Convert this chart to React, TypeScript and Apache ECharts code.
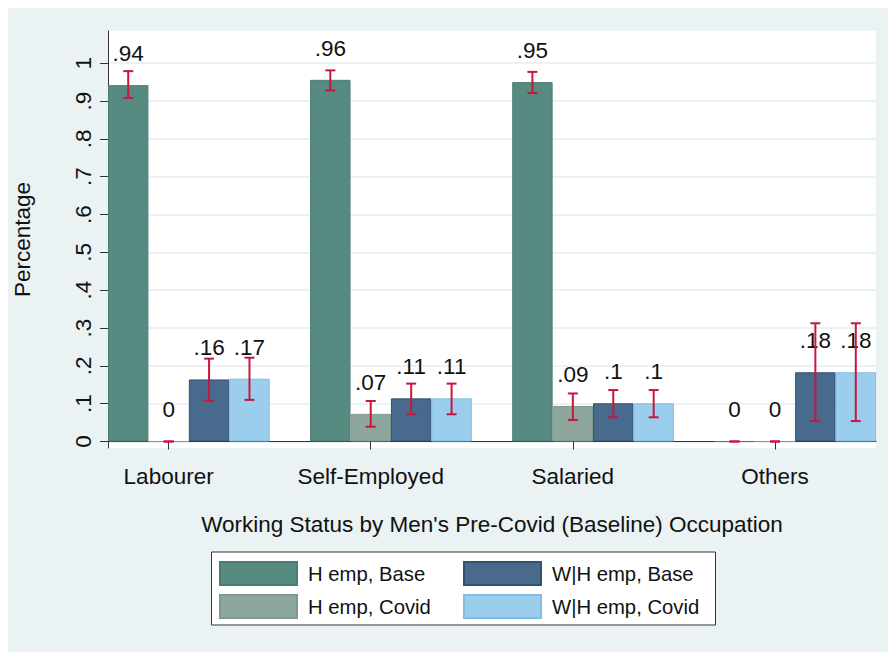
import React, { useEffect, useRef } from 'react';
import * as echarts from 'echarts';

const categories = ['Labourer', 'Self-Employed', 'Salaried', 'Others'];
const seriesNames = ['H emp, Base', 'H emp, Covid', 'W|H emp, Base', 'W|H emp, Covid'];

const hEmpBase = [0.942, 0.956, 0.95, 0];
const hEmpCovid = [0, 0.073, 0.094, 0];
const whEmpBase = [0.164, 0.114, 0.101, 0.183];
const whEmpCovid = [0.166, 0.114, 0.101, 0.183];

const hEmpBaseLow = [0.908, 0.928, 0.921, 0];
const hEmpBaseHigh = [0.979, 0.981, 0.977, 0];
const hEmpCovidLow = [0, 0.039, 0.057, 0];
const hEmpCovidHigh = [0, 0.107, 0.127, 0];
const whEmpBaseLow = [0.108, 0.072, 0.064, 0.054];
const whEmpBaseHigh = [0.219, 0.153, 0.136, 0.3125];
const whEmpCovidLow = [0.11, 0.072, 0.064, 0.054];
const whEmpCovidHigh = [0.2215, 0.153, 0.136, 0.3125];

const yTicks = [0, 0.1, 0.2, 0.3, 0.4, 0.5, 0.6, 0.7, 0.8, 0.9, 1];
const yTickLabels = ['0', '.1', '.2', '.3', '.4', '.5', '.6', '.7', '.8', '.9', '1'];

const colors = ['#578A80', '#8DA79C', '#476A8D', '#9BCDEC'];
const borders = ['#4C7D73', '#7F998E', '#2F5275', '#83BCE2'];
const errColor = '#C8173F';
const FONT = '"Liberation Sans", Arial, Helvetica, sans-serif';
const FS = 22.5;

const allValues = [hEmpBase, hEmpCovid, whEmpBase, whEmpCovid];
const allLow = [hEmpBaseLow, hEmpCovidLow, whEmpBaseLow, whEmpCovidLow];
const allHigh = [hEmpBaseHigh, hEmpCovidHigh, whEmpBaseHigh, whEmpCovidHigh];

// slots: 4 bars per group + 1 gap between groups
const perGroup = seriesNames.length;
const slotCount = categories.length * (perGroup + 1) - 1;
const slotIds = Array.from({ length: slotCount }, (_, i) => 's' + i);
const labelSlot = (g: number) => g * (perGroup + 1) + 1;
const slotLabel = slotIds.map((_, i) => {
  const g = categories.findIndex((_, gi) => labelSlot(gi) === i);
  return g >= 0 ? categories[g] : '';
});

const fmt = (v: number) => {
  const s = String(Number(v.toFixed(2)));
  return s.replace(/^0\./, '.');
};

export default function App() {
  const ref = useRef<HTMLDivElement>(null);
  useEffect(() => {
    if (!ref.current) return;
    const chart = echarts.init(ref.current, undefined, { renderer: 'svg' });

    const barSeries = seriesNames.map((name, k) => {
      const data: (number | null)[] = slotIds.map(() => null);
      categories.forEach((_, g) => {
        data[g * (perGroup + 1) + k] = allValues[k][g];
      });
      return {
        name,
        type: 'bar',
        data,
        barWidth: '100%',
        barGap: '-100%',
        itemStyle: { color: colors[k], borderColor: borders[k], borderWidth: 1 },
        label: {
          show: true,
          position: 'top',
          distance: 20,
          formatter: (p: any) => fmt(p.value),
          fontFamily: FONT,
          fontSize: FS,
          color: '#111',
        },
        z: 2,
      };
    });

    const errData: number[][] = [];
    seriesNames.forEach((_, k) => {
      categories.forEach((_, g) => {
        errData.push([g * (perGroup + 1) + k, allLow[k][g], allHigh[k][g]]);
      });
    });

    const option: any = {
      animation: false,
      backgroundColor: '#EAF2F3',
      textStyle: { fontFamily: FONT },
      grid: {
        left: 100,
        right: 12,
        top: 23,
        bottom: 204,
        show: true,
        backgroundColor: '#FFFFFF',
        borderWidth: 0,
        containLabel: false,
        outerBoundsMode: 'none',
      },
      xAxis: {
        type: 'category',
        data: slotIds,
        boundaryGap: true,
        name: 'Working Status by Men\'s Pre-Covid (Baseline) Occupation',
        nameLocation: 'middle',
        nameGap: 65,
        nameTextStyle: { fontFamily: FONT, fontSize: FS, color: '#111' },
        axisLine: { show: true, lineStyle: { color: '#333', width: 1 } },
        axisTick: {
          show: true,
          alignWithLabel: true,
          length: 8,
          interval: (i: number) => slotLabel[i] !== '',
          lineStyle: { color: '#333' },
        },
        axisLabel: {
          interval: (i: number) => slotLabel[i] !== '',
          formatter: (_v: string, i: number) => slotLabel[i],
          margin: 17,
          fontFamily: FONT,
          fontSize: FS,
          color: '#111',
        },
        splitLine: { show: false },
      },
      yAxis: {
        type: 'value',
        min: -0.0172,
        max: 1.0851,
        name: 'Percentage',
        nameLocation: 'middle',
        nameGap: 74,
        nameTextStyle: { fontFamily: FONT, fontSize: FS, color: '#111' },
        axisLine: { show: true, lineStyle: { color: '#333', width: 1 } },
        axisTick: { show: true, length: 8, customValues: yTicks, lineStyle: { color: '#333' } },
        axisLabel: {
          customValues: yTicks,
          rotate: 90,
          margin: 13,
          fontFamily: FONT,
          fontSize: FS,
          color: '#111',
          formatter: (v: number) => {
            const i = yTicks.findIndex((t) => Math.abs(t - v) < 1e-6);
            return i >= 0 ? yTickLabels[i] : '';
          },
        },
        splitLine: { show: true, lineStyle: { color: '#E6EEF1', width: 1.5 } },
      },
      legend: [
        {
          orient: 'vertical',
          left: 211,
          top: 553,
          padding: 0,
          itemWidth: 77,
          itemHeight: 23,
          itemGap: 8,
          selectedMode: false,
          icon: 'rect',
          data: [seriesNames[0], seriesNames[1]],
          textStyle: { fontFamily: FONT, fontSize: 20.3, color: '#111', padding: [0, 0, 0, 6] },
        },
        {
          orient: 'vertical',
          left: 455,
          top: 553,
          padding: 0,
          itemWidth: 77,
          itemHeight: 23,
          itemGap: 8,
          selectedMode: false,
          icon: 'rect',
          data: [seriesNames[2], seriesNames[3]],
          textStyle: { fontFamily: FONT, fontSize: 20.3, color: '#111', padding: [0, 0, 0, 6] },
        },
      ],
      graphic: [
        {
          type: 'rect',
          z: -1,
          shape: { x: 203.5, y: 544, width: 504, height: 73 },
          style: { fill: '#FFFFFF', stroke: '#333', lineWidth: 1 },
        },
      ],
      series: [
        ...barSeries,
        {
          type: 'custom',
          name: 'ci',
          data: errData,
          encode: { x: 0, y: [1, 2] },
          z: 5,
          clip: false,
          renderItem: (_params: any, api: any) => {
            const x = api.value(0);
            const lo = api.coord([x, api.value(1)]);
            const hi = api.coord([x, api.value(2)]);
            const hw = 5;
            const style = { stroke: errColor, lineWidth: 2, fill: null };
            return {
              type: 'group',
              children: [
                { type: 'line', shape: { x1: lo[0], y1: lo[1], x2: hi[0], y2: hi[1] }, style },
                { type: 'line', shape: { x1: lo[0] - hw, y1: lo[1], x2: lo[0] + hw, y2: lo[1] }, style },
                { type: 'line', shape: { x1: hi[0] - hw, y1: hi[1], x2: hi[0] + hw, y2: hi[1] }, style },
              ],
            };
          },
        },
      ],
    };
    chart.setOption(option);
    return () => chart.dispose();
  }, []);
  return (
    <div
      ref={ref}
      style={{ position: 'absolute', left: 8, top: 8, width: 880, height: 644 }}
    />
  );
}
